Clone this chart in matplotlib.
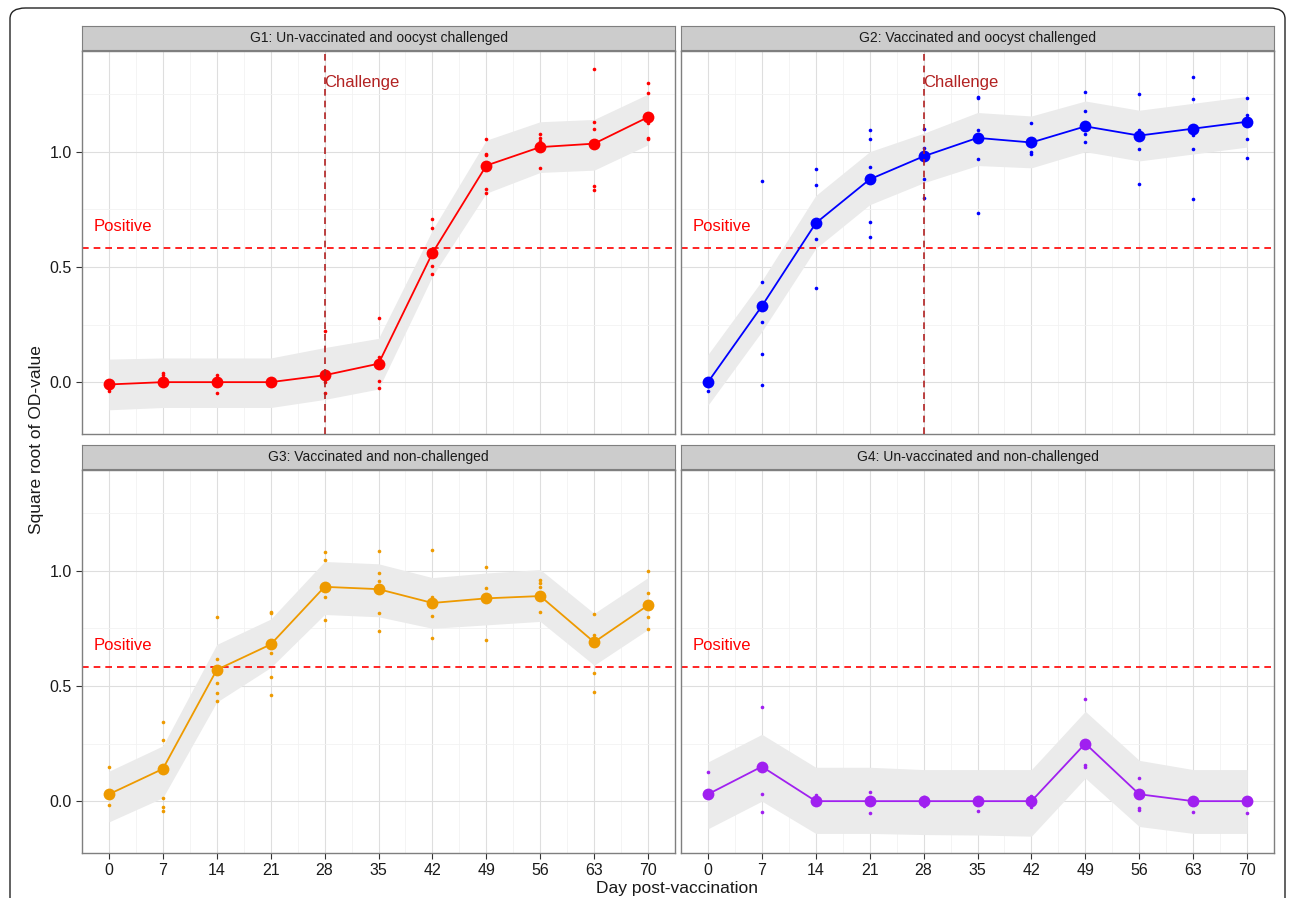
import numpy as np
import matplotlib.pyplot as plt
from matplotlib.patches import FancyBboxPatch

plt.rcParams['font.family'] = ['Liberation Sans', 'DejaVu Sans']

# days post-vaccination
days = [0, 7, 14, 21, 28, 35, 42, 49, 56, 63, 70]

titles = ['G1: Un-vaccinated and oocyst challenged',
          'G2: Vaccinated and oocyst challenged',
          'G3: Vaccinated and non-challenged',
          'G4: Un-vaccinated and non-challenged']
colors = ['#FF0000', '#0000FF', '#EE9A00', '#A020F0']
challenged = [True, True, False, False]

# group means
g1_mean = [-0.01, 0.0, 0.0, 0.0, 0.03, 0.08, 0.56, 0.94, 1.02, 1.035, 1.15]
g2_mean = [0.0, 0.33, 0.69, 0.88, 0.98, 1.06, 1.04, 1.11, 1.07, 1.10, 1.13]
g3_mean = [0.03, 0.14, 0.57, 0.68, 0.93, 0.92, 0.86, 0.88, 0.89, 0.69, 0.85]
g4_mean = [0.03, 0.15, 0.0, 0.0, 0.0, 0.0, 0.0, 0.25, 0.03, 0.0, 0.0]

# confidence band
g1_low = [-0.12, -0.11, -0.11, -0.11, -0.075, -0.03, 0.46, 0.82, 0.91, 0.92, 1.03]
g1_high = [0.10, 0.105, 0.105, 0.105, 0.15, 0.19, 0.66, 1.05, 1.13, 1.14, 1.25]
g2_low = [-0.10, 0.22, 0.58, 0.77, 0.865, 0.94, 0.93, 1.00, 0.96, 0.99, 1.02]
g2_high = [0.12, 0.44, 0.81, 1.00, 1.08, 1.17, 1.155, 1.22, 1.18, 1.21, 1.24]
g3_low = [-0.09, 0.015, 0.43, 0.58, 0.81, 0.80, 0.75, 0.765, 0.78, 0.59, 0.745]
g3_high = [0.13, 0.24, 0.68, 0.79, 1.04, 1.03, 0.97, 0.99, 1.005, 0.815, 0.97]
g4_low = [-0.12, 0.0, -0.14, -0.14, -0.145, -0.147, -0.152, 0.10, -0.11, -0.14, -0.14]
g4_high = [0.17, 0.29, 0.147, 0.147, 0.137, 0.137, 0.137, 0.39, 0.177, 0.137, 0.137]

# individual animals, one list per day
g1_obs = [[0.0, -0.03, -0.04], [0.04, 0.03, 0.01, 0.0], [0.033, 0.0, -0.046], [0.0, 0.0],
          [0.22, 0.0, -0.046], [0.28, 0.11, 0.005, -0.025], [0.706, 0.67, 0.504, 0.47],
          [1.056, 0.99, 0.985, 0.836, 0.82], [1.075, 1.06, 1.045, 0.93],
          [1.36, 1.13, 1.10, 0.85, 0.835], [1.30, 1.256, 1.123, 1.06, 1.055]]
g2_obs = [[-0.017, -0.04], [0.873, 0.434, 0.26, 0.12, -0.013], [0.926, 0.854, 0.622, 0.41],
          [1.094, 1.053, 0.933, 0.695, 0.631], [1.10, 1.014, 0.883, 0.80, 0.978],
          [1.239, 1.233, 1.093, 0.97, 0.735], [1.123, 1.025, 1.0, 0.99],
          [1.26, 1.177, 1.078, 1.042], [1.25, 1.094, 1.013, 0.858],
          [1.326, 1.229, 1.072, 1.01, 0.796], [1.233, 1.158, 1.056, 0.971]]
g3_obs = [[0.149, -0.017], [0.342, 0.267, 0.014, -0.026, -0.043],
          [0.80, 0.616, 0.584, 0.512, 0.469, 0.433], [0.822, 0.818, 0.642, 0.538, 0.46],
          [1.079, 1.046, 0.885, 0.784], [1.087, 0.988, 0.955, 0.815, 0.74],
          [1.092, 0.885, 0.804, 0.707], [1.017, 0.926, 0.70], [0.96, 0.948, 0.93, 0.822],
          [0.812, 0.721, 0.556, 0.475], [0.999, 0.902, 0.798, 0.748]]
g4_obs = [[0.126], [0.407, 0.029, -0.046], [0.025, 0.0], [0.04, -0.05], [0.019, -0.02],
          [-0.043], [0.022, -0.025], [0.443, 0.159, 0.147], [0.101, -0.029, -0.039],
          [-0.046], [-0.05]]

means = [g1_mean, g2_mean, g3_mean, g4_mean]
lows = [g1_low, g2_low, g3_low, g4_low]
highs = [g1_high, g2_high, g3_high, g4_high]
obs = [g1_obs, g2_obs, g3_obs, g4_obs]

positive_cut = 0.583
challenge_day = 28

narrow = ['Liberation Sans Narrow', 'Liberation Sans', 'DejaVu Sans']

W, H = 1292, 898
fig = plt.figure(figsize=(W / 100, H / 100), dpi=100)

# rounded frame around the figure
frame = FancyBboxPatch((10 / W, -0.05), (1285 - 10) / W, (H - 8) / H + 0.05,
                       boxstyle='round,pad=0,rounding_size=0.012',
                       transform=fig.transFigure, fill=False, ec='#222222', lw=1.0)
fig.patches.append(frame)

lefts = [82, 681, 82, 681]
tops = [51, 51, 470, 470]
pw, ph = 593, 383
strip_h = 24

for i in range(4):
    l, t = lefts[i], tops[i]
    ax = fig.add_axes([l / W, (H - t - ph) / H, pw / W, ph / H])
    sax = fig.add_axes([l / W, (H - t + 1) / H, pw / W, strip_h / H])

    # strip
    sax.set_facecolor('#CCCCCC')
    sax.set_xticks([])
    sax.set_yticks([])
    for s in sax.spines.values():
        s.set_color('#7F7F7F')
    sax.text(0.5, 0.5, titles[i], ha='center', va='center', fontsize=10, color='#1A1A1A',
             transform=sax.transAxes)

    ax.set_xlim(-3.5, 73.5)
    ax.set_ylim(-0.225, 1.437)
    ax.set_xticks(days)
    ax.set_xticks(np.arange(3.5, 70, 7), minor=True)
    ax.set_yticks([0.0, 0.5, 1.0])
    ax.set_yticks([0.25, 0.75, 1.25], minor=True)
    ax.grid(which='major', color='#DEDEDE', lw=0.8)
    ax.grid(which='minor', color='#F2F2F2', lw=0.6)
    ax.set_axisbelow(True)
    for s in ax.spines.values():
        s.set_color('#7F7F7F')
        s.set_linewidth(1.0)
    ax.tick_params(which='minor', length=0)
    ax.tick_params(which='major', length=4, color='#333333', labelsize=11.5,
                   labelcolor='#1A1A1A')

    if i < 2:
        ax.tick_params(axis='x', which='major', length=0, labelbottom=False)
    else:
        ax.set_xticklabels([str(d) for d in days], family=narrow)
    if i % 2 == 1:
        ax.tick_params(axis='y', which='major', length=0, labelleft=False)
    else:
        ax.set_yticklabels(['0.0', '0.5', '1.0'], family=narrow)

    ax.fill_between(days, lows[i], highs[i], color='#EBEBEB', lw=0, zorder=1)
    ax.axhline(positive_cut, color='#FF0000', ls=(0, (4, 3)), lw=1.2, zorder=2)
    ax.text(-2.0, positive_cut + 0.06, 'Positive', color='#FF0000', fontsize=12,
            ha='left', va='bottom', zorder=5)
    if challenged[i]:
        ax.axvline(challenge_day, color='#B22222', ls=(0, (4, 3)), lw=1.2, zorder=4)
        ax.text(challenge_day, 1.30, 'Challenge', color='#B22222', fontsize=12,
                ha='left', va='center', zorder=5)

    for d, vals in zip(days, obs[i]):
        ax.plot([d] * len(vals), vals, 'o', color=colors[i], ms=2.6, mew=0, zorder=3)
    ax.plot(days, means[i], '-', color=colors[i], lw=1.3, zorder=3)
    ax.plot(days, means[i], 'o', color=colors[i], ms=8.5, mew=0, zorder=3)

fig.text(37 / W, 1 - 440 / H, 'Square root of OD-value', rotation=90, ha='center',
         va='center', fontsize=12.5, color='#1A1A1A')
fig.text(677 / W, 1 - 888 / H, 'Day post-vaccination', ha='center', va='center',
         fontsize=12.5, color='#1A1A1A')

fig.savefig('out.png', dpi=100)
